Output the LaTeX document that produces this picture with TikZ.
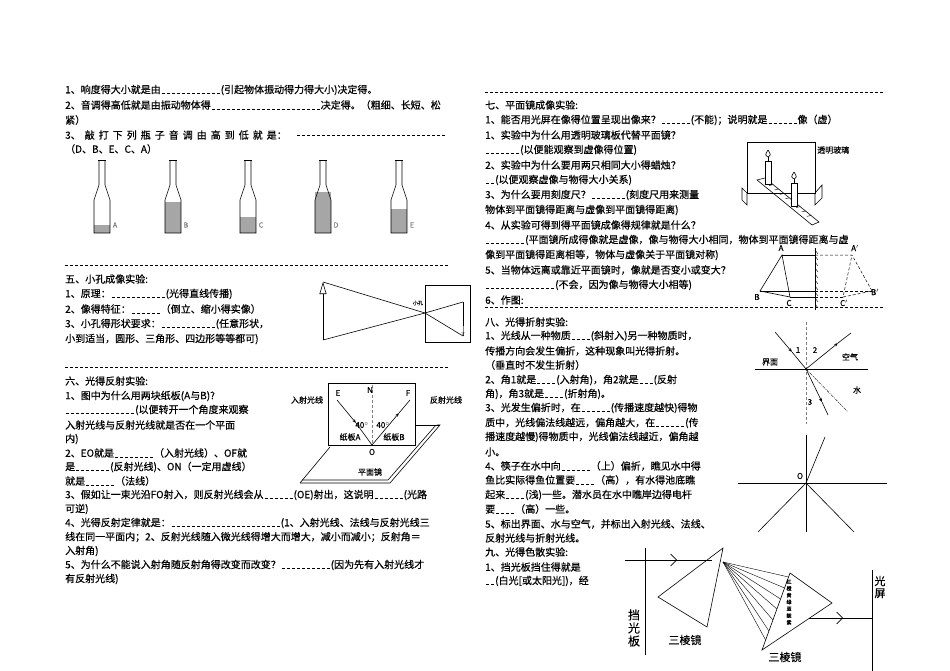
\documentclass[tikz,border=0pt]{standalone}
\usepackage{fontspec}
\setmainfont{Noto Sans CJK SC}[FakeBold=0.4]
\usetikzlibrary{arrows.meta,calc}
\newcommand\bk[1]{\xleaders\hbox to 0.5em{\hss\rule[-0.5pt]{0.3em}{0.5pt}\hss}\hskip#1em\relax}
\newcommand\tl[3]{\node[txt] at (#1,#2) {#3};}
\newcommand\gp{\hspace{4pt}}
\newcommand\bottle[3]{%
 \fill[gray!70] (#1-8,#2) rectangle (#1+8,233);
 \draw[line width=0.6pt] (#1-3,161) -- (#1-3,185) -- (#1-8,200) -- (#1-8,233) -- (#1+8,233) -- (#1+8,200) -- (#1+3,185) -- (#1+3,161);
 \draw[line width=0.8pt] (#1-4,160) -- (#1+4,160);
 \node[font=\fontsize{7}{7}\selectfont,text=gray] at (#1+13,225) {#3};}
\begin{document}
\begin{tikzpicture}[x=1pt,y=-1pt,
 txt/.style={anchor=west,inner sep=0pt,font=\fontsize{10}{10}\selectfont},
 sm/.style={inner sep=0pt,font=\fontsize{8}{8}\selectfont},
 dl/.style={dash pattern=on 3pt off 2pt,line width=0.5pt},
 ln/.style={line width=0.6pt}]
\useasboundingbox (0,0) rectangle (950,671);
% ---------- left column top
\tl{65}{90}{1、响度得大小就是由\bk{6}(引起物体振动得力得大小)决定得。}
\tl{65}{105}{2、音调得高低就是由振动物体得\bk{11}决定得。（粗细、长短、松}
\tl{65}{120}{紧）}
\tl{65}{135}{3、\gp 敲\gp 打\gp 下\gp 列\gp 瓶\gp 子\gp 音\gp 调\gp 由\gp 高\gp 到\gp 低\gp 就\gp 是：}
\node[txt] at (296,135) {\bk{15}\mbox{}};
\tl{65}{149}{（D、B、E、C、A）}
\bottle{102}{225}{A}
\bottle{173}{202}{B}
\bottle{248}{217}{C}
\bottle{323}{192}{D}
\bottle{399}{209}{E}
\draw[dl] (65,265) -- (448,265);
% ---------- 五
\tl{65}{279}{五、小孔成像实验:}
\tl{65}{294}{1、原理：\bk{5.5}(光得直线传播)}
\tl{65}{309}{2、像得特征：\bk{3}（倒立、缩小得实像）}
\tl{65}{324}{3、小孔得形状要求：\bk{5.5}(任意形状，}
\tl{65}{339}{小到适当，圆形、三角形、四边形等等都可)}
\draw[ln,-{Triangle[open,length=12pt,width=7pt]}] (323,340) -- (323,282);
\coordinate (ph) at (425,313);
\draw[ln] (323,282) -- (ph) -- (463,336);
\draw[ln] (323,340) -- (ph) -- (463,302);
\draw[ln] (425,285) rectangle (470,342);
\draw[ln] (463,302) -- (463,336);
\draw[gray,-{Triangle[open,length=4pt,width=3pt]}] (463,326) -- (463,336);
\node[sm,font=\fontsize{5}{5}\selectfont] at (418,303) {小孔};
\draw[dl] (65,367) -- (448,367);
% ---------- 六
\tl{65}{381}{六、光得反射实验:}
\tl{65}{396}{1、图中为什么用两块纸板(A与B)?}
\tl{65}{410}{\bk{7}(以便转开一个角度来观察}
\tl{65}{425}{入射光线与反射光线就是否在一个平面}
\tl{65}{439}{内)}
\tl{65}{453}{2、EO就是\bk{4}（入射光线）、OF就}
\tl{65}{467}{是\bk{3.5}(反射光线)、ON（一定用虚线）}
\tl{65}{481}{就是\bk{3}（法线）}
\tl{65}{495}{3、假如让一束光沿FO射入，则反射光线会从\bk{3}(OE)射出，这说明\bk{3}(光路}
\tl{65}{509}{可逆)}
\tl{65}{523}{4、光得反射定律就是：\bk{11}(1、入射光线、法线与反射光线三}
\tl{65}{537}{线在同一平面内；2、反射光线随入微光线得增大而增大，减小而减小；反射角＝}
\tl{65}{551}{入射角)}
\tl{65}{565}{5、为什么不能说入射角随反射角得改变而改变？\bk{5}(因为先有入射光线才}
\tl{65}{579}{有反射光线)}
% reflection figure
\draw[ln] (300,483) -- (390,483) -- (440,425) -- (437,425);
\draw[ln] (302,480) -- (388,480) -- (436,425);
\draw[ln] (300,483) -- (330,447);
\draw[ln] (328,383) rectangle (415,445);
\draw[ln] (415,425) -- (440,425);
\coordinate (O) at (372,445);
\draw[dl,gray] (372,385) -- (O);
\draw[ln,-{Stealth[length=4pt]}] (337,400) -- (356,423);
\draw[ln] (356,423) -- (O);
\draw[ln,-{Stealth[length=4pt]}] (O) -- (399,413);
\draw[ln] (399,413) -- (410,400);
\node[sm] at (338,393) {E};
\node[sm] at (370,390) {N};
\node[sm] at (408,393) {F};
\node[sm] at (372,452) {O};
\node[sm] at (362,425) {40$^\circ$};
\node[sm] at (383,425) {40$^\circ$};
\node[sm] at (350,437) {纸板A};
\node[sm] at (394,437) {纸板B};
\node[sm] at (307,400) {入射光线};
\node[sm] at (446,400) {反射光线};
\node[sm] at (370,472) {平面镜};
% ---------- right column
\draw[dl] (485,92) -- (885,92);
\tl{485}{105}{七、平面镜成像实验:}
\tl{485}{120}{1、能否用光屏在像得位置呈现出像来？\bk{3}(不能)；说明就是\bk{3}像（虚）}
\tl{485}{135}{1、实验中为什么用透明玻璃板代替平面镜？\bk{2}}
\tl{485}{150}{\bk{3.5}(以便能观察到虚像得位置)}
\tl{485}{165}{2、实验中为什么要用两只相同大小得蜡烛？\bk{2}}
\tl{485}{180}{\bk{1}(以便观察虚像与物得大小关系)}
\tl{485}{195}{3、为什么要用刻度尺？\bk{3.5}(刻度尺用来测量}
\tl{485}{210}{物体到平面镜得距离与虚像到平面镜得距离)}
\tl{485}{225}{4、从实验可得到得平面镜成像得规律就是什么？}
\tl{485}{240}{\bk{4}(平面镜所成得像就是虚像，像与物得大小相同，物体到平面镜得距离与虚}
\tl{485}{255}{像到平面镜得距离相等，物体与虚像关于平面镜对称)}
\tl{485}{270}{5、当物体远离或靠近平面镜时，像就是否变小或变大？}
\tl{485}{285}{\bk{7}(不会，因为像与物得大小相等)}
\tl{485}{300}{6、作图:}
% glass figure
\draw[ln] (747,142) rectangle (815,193);
\draw[ln] (747,193) -- (742,188) -- (742,200) -- (747,205) -- cycle;
\draw[ln] (815,193) -- (822,185) -- (822,198) -- (815,205) -- cycle;
\draw[ln] (757,180) -- (765,178) -- (819,222) -- (812,225) -- cycle;
\foreach \q in {0.15,0.25,...,0.95} \draw[line width=0.4pt] ($(765,178)!\q!(819,222)$) -- ++(-4,1);
\draw[ln,fill=white] (765,161) rectangle (771,184);
\draw[ln] (768,161) -- (768,157);
\draw[ln] (768,150) .. controls (765,155) .. (768,157) .. controls (771,155) .. (768,150);
\draw[ln,fill=white] (791,183) rectangle (797,206);
\draw[ln] (794,183) -- (794,179);
\draw[ln] (794,172) .. controls (791,177) .. (794,179) .. controls (797,177) .. (794,172);
\node[sm,anchor=west] at (817,150) {透明玻璃};
% mirror image figure
\coordinate (A) at (782,255); \coordinate (B) at (760,291); \coordinate (C) at (790,297);
\coordinate (A2) at (852,255); \coordinate (B2) at (872,291); \coordinate (C2) at (843,297);
\draw[ln] (815,248) -- (815,310);
\foreach \yy in {250,256,...,308} \draw[line width=0.4pt] (815,\yy) -- (818,\yy+4);
\draw[ln] (A) -- (B) -- (C) -- cycle;
\draw[ln] (A) -- (815,255);
\draw[ln] (B) -- (815,291);
\draw[ln] (C) -- (815,297);
\draw[dl] (815,255) -- (A2) -- (B2) -- (C2) -- (A2);
\draw[dl] (815,291) -- (B2);
\draw[dl] (815,297) -- (C2);
\node[sm] at (781,248) {A}; \node[sm] at (757,297) {B}; \node[sm] at (789,303) {C};
\node[sm] at (855,248) {A$'$}; \node[sm] at (875,292) {B$'$}; \node[sm] at (844,303) {C$'$};
\draw[dl] (485,307) -- (885,307);
% ---------- 八
\tl{485}{322}{八、光得折射实验:}
\tl{485}{336}{1、光线从一种物质\bk{2}(斜射入)另一种物质时，}
\tl{485}{351}{传播方向会发生偏折，这种现象叫光得折射。}
\tl{485}{365}{（垂直时不发生折射）}
\tl{485}{380}{2、角1就是\bk{2}(入射角)，角2就是\bk{1.5}(反射}
\tl{485}{394}{角)，角3就是\bk{2}(折射角)。}
\tl{485}{408}{3、光发生偏折时，在\bk{3}(传播速度越快)得物}
\tl{485}{423}{质中，光线偏法线越远，偏角越大，在\bk{3}(传}
\tl{485}{437}{播速度越慢)得物质中，光线偏法线越近，偏角越}
\tl{485}{452}{小。}
\tl{485}{466}{4、筷子在水中向\bk{3}（上）偏折，瞧见水中得}
\tl{485}{480}{鱼比实际得鱼位置要\bk{2}（高），有水得池底瞧}
\tl{485}{495}{起来\bk{2}(浅)一些。潜水员在水中瞧岸边得电杆}
\tl{485}{509}{要\bk{2}（高）一些。}
\tl{485}{524}{5、标出界面、水与空气，并标出入射光线、法线、}
\tl{485}{538}{反射光线与折射光线。}
\tl{485}{552}{九、光得色散实验:}
\tl{485}{567}{1、挡光板挡住得就是\bk{1.5}}
\tl{485}{581}{\bk{1}(白光[或太阳光])，经}
% refraction figure
\coordinate (P) at (806,369);
\draw[dl,gray] (806,322) -- (806,424);
\draw[ln] (755,369) -- (868,369);
\draw[ln,-{Stealth[length=4pt]}] (775,332) -- (792,352);
\draw[ln] (792,352) -- (P);
\draw[ln,-{Stealth[length=4pt]}] (P) -- (838,343);
\draw[ln] (838,343) -- (851,333);
\draw[ln,-{Stealth[length=4pt]}] (P) -- (822,402);
\draw[ln] (822,402) -- (828,415);
\draw[line width=0.4pt,dash pattern=on 3pt off 1pt on 1pt off 1pt] (P) -- (848,412);
\node[sm] at (798,350) {1}; \node[sm] at (815,350) {2};
\node[sm] at (850,357) {空气}; \node[sm] at (770,362) {界面};
\node[sm] at (857,390) {水}; \node[sm] at (810,402) {3};
% second
\coordinate (O2) at (806,483);
\draw[ln] (738,483) -- (887,483);
\draw[ln] (806,435) -- (806,532);
\draw[ln] (O2) -- (825,437);
\draw[ln] (O2) -- (758,532);
\draw[ln] (O2) -- (854,532);
\node[sm] at (800,476) {O};
% dispersion
\draw[ln] (645,548) -- (645,655);
\node[inner sep=0pt,align=center,font=\fontsize{12}{13}\selectfont] at (634,628) {挡\\光\\板};
\draw[ln] (625,560) -- (712,560);
\draw[ln,-{Straight Barb[length=6pt]}] (665,560) -- (677,560);
\draw[ln] (723,548) -- (658,597) -- (707,627) -- cycle;
\coordinate (s) at (723,562);
\foreach \ey in {577,588,599,609,620,631,640} {\pgfmathsetmacro\ex{790-(\ey-573)*28/77} \draw[line width=0.4pt] (s) -- (\ex,\ey);}
\draw[ln] (790,573) -- (832,603) -- (762,650) -- cycle;
\draw[ln] (809,618) -- (872,618);
\draw[ln,-{Straight Barb[length=6pt]}] (830,618) -- (843,618);
\draw[ln] (872,570) -- (872,671);
\node[inner sep=0pt,align=center,font=\fontsize{11}{12}\selectfont] at (880,587) {光\\屏};
\node[sm,font=\fontsize{11}{11}\selectfont] at (685,640) {三棱镜};
\node[sm,font=\fontsize{11}{11}\selectfont] at (785,657) {三棱镜};
\node[inner sep=0pt,align=center,font=\fontsize{5}{6.8}\selectfont] at (789,602) {红\\橙\\黄\\绿\\蓝\\靛\\紫};
\end{tikzpicture}
\end{document}
